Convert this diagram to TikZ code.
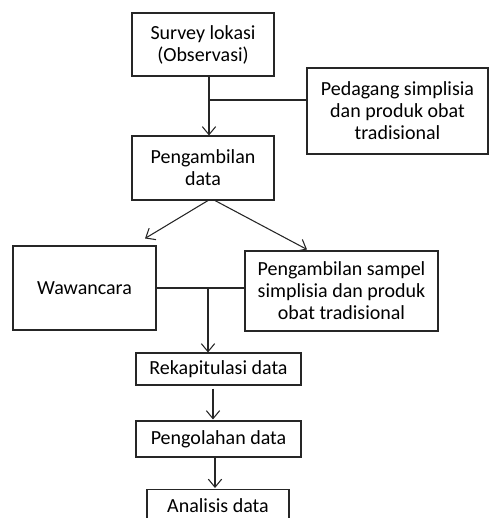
\documentclass[tikz,border=0pt]{standalone}
\usepackage{fontspec}
\setmainfont{Carlito}
\usetikzlibrary{arrows.meta,calc}
\tikzset{
  box/.style={draw=black!85, line width=0.8pt, rectangle, align=center, inner sep=0pt,
    font=\fontsize{15}{16.5}\selectfont, text=black},
  conn/.style={draw=black!85, line width=0.8pt},
  arr/.style={conn, -{Straight Barb[length=6pt,width=10pt,line width=0.8pt]}}
}
\begin{document}
\begin{tikzpicture}[x=0.75pt,y=-0.75pt]
\useasboundingbox (0,0) rectangle (489,518);
\clip (0,0) rectangle (489,518);
\node[box, minimum width=106.5pt, minimum height=47.25pt] (survey) at (203,44.5) {Survey lokasi\\(Observasi)};
\node[box, minimum width=135.75pt, minimum height=64.5pt] (ped) at (397.5,111) {Pedagang simplisia\\dan produk obat\\tradisional};
\node[box, minimum width=106.5pt, minimum height=48pt] (peng) at (203,168) {Pengambilan\\data};
\node[box, minimum width=107.25pt, minimum height=63pt] (waw) at (84.5,288) {Wawancara};
\node[box, minimum width=144.75pt, minimum height=60pt] (sampel) at (341.5,291) {Pengambilan sampel\\simplisia dan produk\\obat tradisional};
\node[box, minimum width=123.75pt, minimum height=24pt] (rekap) at (218.5,369) {Rekapitulasi data};
\node[box, minimum width=123.75pt, minimum height=27pt] (olah) at (218.5,439) {Pengolahan data};
\node[box, minimum width=106.5pt, minimum height=24pt, anchor=north] (anal) at (218,489) {Analisis data};
% survey -> pengambilan, with pedagang joining
\coordinate (j1) at (209,100);
\draw[arr] (survey.south -| j1) -- (peng.north -| j1);
\draw[conn] (ped.west |- j1) -- (j1);
% pengambilan -> wawancara / sampel
\coordinate (t1) at ($(waw.north)+(60.5,-7)$);
\coordinate (t2) at ($(sampel.north)+(-34.5,-1)$);
\draw[arr] ($(peng.south)+(5,0)$) -- (t1);
\draw[arr] ($(peng.south)+(12,0)$) -- (t2);
% wawancara -- sampel, down to rekap
\draw[conn] (waw.east) -- (waw.east -| sampel.west);
\coordinate (j2) at (208,288);
\draw[arr] (j2) -- (j2 |- rekap.north);
% rekap -> olah -> anal
\draw[arr] ($(rekap.south)+(-5.5,3)$) -- ($(olah.north)+(-5.5,-1)$);
\draw[arr] ($(olah.south)+(-3.5,0)$) -- ($(anal.north)+(-3,-1)$);
\end{tikzpicture}
\end{document}
